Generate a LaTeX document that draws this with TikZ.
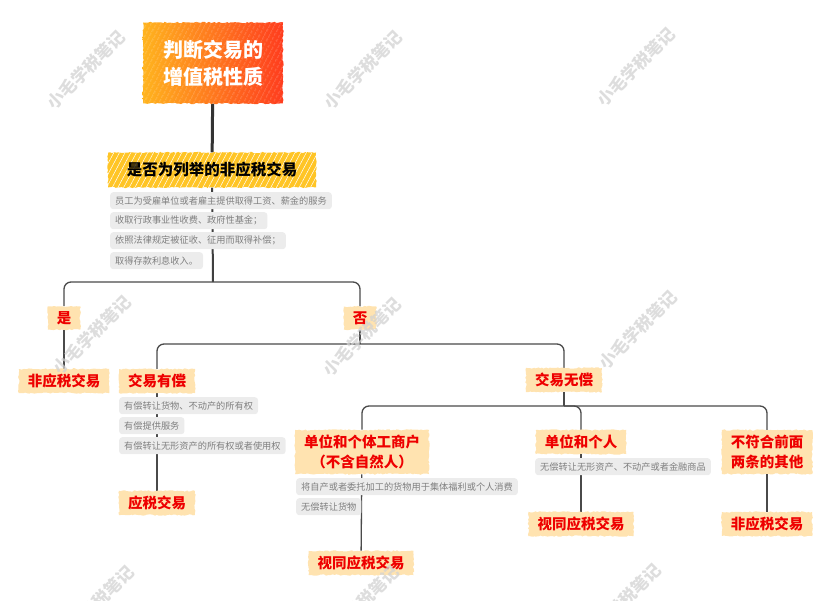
\documentclass[tikz,border=0pt]{standalone}
\usepackage{fontspec}
\setmainfont{Noto Sans CJK SC}
\usetikzlibrary{positioning,backgrounds,decorations.pathmorphing,patterns.meta}

\definecolor{titleL}{HTML}{FFB41E}
\definecolor{titleR}{HTML}{FF3C1E}
\definecolor{qyellow}{HTML}{FFC526}
\definecolor{peach}{HTML}{FFE3B0}
\definecolor{redtxt}{HTML}{EE0000}
\definecolor{notebg}{HTML}{ECECEC}
\definecolor{notetxt}{HTML}{7F7F7F}
\definecolor{linecol}{HTML}{4A4A4A}
\definecolor{wmark}{HTML}{D2D2D2}

\tikzset{
  rough/.style={decorate, decoration={random steps, segment length=2pt, amplitude=0.7pt}},
  streaks/.style={path picture={\fill[pattern={Lines[angle=62,distance=#1,line width=0.5pt]}, pattern color=white, fill opacity=.45] (path picture bounding box.south west) rectangle (path picture bounding box.north east);}},
  titlebox/.style={rough, left color=titleL, right color=titleR, streaks=4pt, text=white,
    font=\fontsize{20}{27}\selectfont\bfseries, align=center, minimum width=140pt, minimum height=81pt},
  qbox/.style={rough, fill=qyellow, streaks=5pt, font=\fontsize{15.5}{18}\selectfont\bfseries,
    minimum width=208pt, minimum height=35pt},
  lbl/.style={rough, fill=peach, text=redtxt, font=\fontsize{14.5}{20}\selectfont\bfseries,
    inner xsep=9pt, inner ysep=5pt, align=center},
  note/.style={fill=notebg, rounded corners=3pt, text=notetxt, font=\fontsize{9.2}{10}\selectfont,
    anchor=north west, inner xsep=5pt, inner ysep=0pt, minimum height=17pt},
  conn/.style={draw=linecol, line width=1.3pt, rounded corners=7pt},
  wm/.style={text=wmark, font=\fontsize{17}{17}\selectfont\bfseries, rotate=45, opacity=.75}
}

\begin{document}
\begin{tikzpicture}[x=1pt, y=-1pt]
    \pgfmathsetseed{7}
    \useasboundingbox (0,0) rectangle (831,601);

    % Title and question
    \node[titlebox] (title) at (213,63) {判断交易的\\增值税性质};
    \node[qbox] (q) at (212,170) {是否为列举的非应税交易};
    \node[note] (n1) at (110,192) {员工为受雇单位或者雇主提供取得工资、薪金的服务};
    \node[note] (n2) at (110,212) {收取行政事业性收费、政府性基金；};
    \node[note] (n3) at (110,232) {依照法律规定被征收、征用而取得补偿；};
    \node[note] (n4) at (110,252) {取得存款利息收入。};

    % Yes / no
    \node[lbl] (yes) at (64,318) {是};
    \node[lbl] (no) at (360,318) {否};
    \node[lbl] (nontaxA) at (64,381) {非应税交易};

    % Paid
    \node[lbl] (paid) at (157,381) {交易有偿};
    \node[note] (p1) at (119,397) {有偿转让货物、不动产的所有权};
    \node[note] (p2) at (119,417) {有偿提供服务};
    \node[note] (p3) at (119,437) {有偿转让无形资产的所有权或者使用权};
    \node[lbl] (taxA) at (157,503) {应税交易};

    % Free
    \node[lbl] (free) at (564,380) {交易无偿};
    \node[lbl] (unitA) at (362,452) {单位和个体工商户\\（不含自然人）};
    \node[note] (u1) at (296,478) {将自产或者委托加工的货物用于集体福利或个人消费};
    \node[note] (u2) at (296,498) {无偿转让货物};
    \node[lbl] (deemA) at (361,563) {视同应税交易};

    \node[lbl] (unitB) at (581,442) {单位和个人};
    \node[note] (v1) at (535,458) {无偿转让无形资产、不动产或者金融商品};
    \node[lbl] (deemB) at (581,524) {视同应税交易};

    \node[lbl] (other) at (767,452) {不符合前面\\两条的其他};
    \node[lbl] (nontaxB) at (767,524) {非应税交易};

    % Connectors
    \coordinate (j1) at (213,282);
    \coordinate (j2) at (360,344);
    \coordinate (j3) at (564,406);
    \begin{pgfonlayer}{background}
        \draw[draw=black!80, line width=3pt] (title) -- (q);
        \draw[draw=black!75, line width=2pt] (q) -- (j1);
        \draw[conn] (j1) -| (yes);
        \draw[conn] (j1) -| (no);
        \draw[conn] (yes) -- (nontaxA);
        \draw[conn] (no) -- (j2);
        \draw[conn] (j2) -| (paid);
        \draw[conn] (j2) -| (free);
        \draw[conn] (paid) -- (taxA);
        \draw[conn] (free) -- (j3);
        \draw[conn] (j3) -| (unitA);
        \draw[conn] (j3) -| (unitB);
        \draw[conn] (j3) -| (other);
        \draw[conn] (unitA) -- (deemA);
        \draw[conn] (unitB) -- (deemB);
        \draw[conn] (other) -- (nontaxB);
    \end{pgfonlayer}

    % Watermarks
    \foreach \wx/\wy [count=\i] in {86/70, 363/70, 636/67, 92/335, 362/337, 638/330, 95/605, 360/605, 622/603}
        \node[wm] (wm\i) at (\wx,\wy) {小毛学税笔记};
\end{tikzpicture}
\end{document}
